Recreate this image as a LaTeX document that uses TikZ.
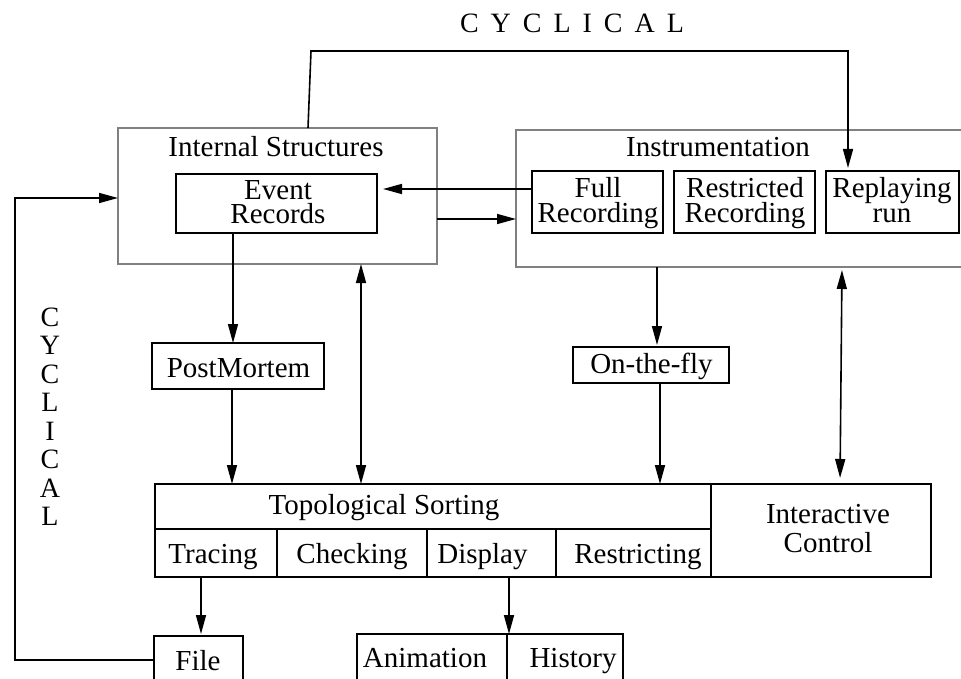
\documentclass[tikz,border=0pt]{standalone}
\usepackage{fontspec}
\setmainfont{Liberation Serif}
\usetikzlibrary{arrows.meta}
\definecolor{framegray}{RGB}{128,128,128}
\begin{document}
\begin{tikzpicture}[x=1pt,y=-1pt,
  >={Triangle[length=19pt,width=10pt]},
  every node/.style={inner sep=0pt, outer sep=0pt},
  txt/.style={font=\fontsize{29}{25}\selectfont},
  tight/.style={font=\fontsize{29}{24}\selectfont, align=center},
  loose/.style={font=\fontsize{29}{29}\selectfont, align=center},
  cyc/.style={font=\fontsize{28}{28.5}\selectfont, align=center},
  frame/.style={draw=framegray, line width=1.8pt},
  box/.style={draw=black, line width=1.6pt},
  link/.style={line width=1.6pt}
]
\useasboundingbox (0,0) rectangle (961,679);

% ---- boxes ----
\node[frame, minimum width=319pt, minimum height=136pt] (intern) at (277.5,196) {};
\node[frame, minimum width=484pt, minimum height=137pt] (instr)  at (758,198.5) {};
\node[box, minimum width=201pt, minimum height=59pt] (ev)     at (276.5,203.5) {};
\node[box, minimum width=131pt, minimum height=62pt] (full)   at (597.5,202) {};
\node[box, minimum width=141pt, minimum height=62pt] (restr)  at (744.5,202) {};
\node[box, minimum width=133pt, minimum height=62pt] (replay) at (892.5,202) {};
\node[box, minimum width=172pt, minimum height=46pt] (pm)     at (238,366) {};
\node[box, minimum width=156pt, minimum height=36pt] (otf)    at (651,365) {};
\node[box, minimum width=556pt, minimum height=45pt] (topo)   at (433,506.5) {};
\node[box, minimum width=122pt, minimum height=48pt] (trace)  at (216,553) {};
\node[box, minimum width=150pt, minimum height=48pt] (check)  at (352,553) {};
\node[box, minimum width=129pt, minimum height=48pt] (disp)   at (491.5,553) {};
\node[box, minimum width=155pt, minimum height=48pt] (rstr)   at (633.5,553) {};
\node[box, minimum width=220pt, minimum height=93pt] (inter)  at (821,530.5) {};
\node[box, minimum width=89pt,  minimum height=64pt] (file)   at (198.5,668) {};
\node[box, minimum width=150pt, minimum height=66pt] (anim)   at (432,667) {};
\node[box, minimum width=116pt, minimum height=66pt] (hist)   at (565,667) {};

% ---- texts ----
\node[txt, anchor=base] (tIntern) at (276,157) {Internal Structures};
\node[txt, anchor=base] (tInstr)  at (718,157) {Instrumentation};
\node[tight] (tEv)     at (278,202.4)  {Event\\Records};
\node[txt, align=center] (tFull)   at (598,202.75) {Full\\Recording};
\node[txt, align=center] (tRestr)  at (745,202.75) {Restricted\\Recording};
\node[txt, align=center] (tReplay) at (892,199.6)  {Replaying\\run};
\node[txt, anchor=base] (tPm)     at (238.5,377) {PostMortem};
\node[txt, anchor=base] (tOtf)    at (651.5,373) {On-the-fly};
\node[txt, anchor=base] (tTopo)   at (384,514)   {Topological Sorting};
\node[txt, anchor=base] (tTrace)  at (213,563)   {Tracing};
\node[txt, anchor=base] (tCheck)  at (352,563)   {Checking};
\node[txt, anchor=base] (tDisp)   at (482.5,563) {Display};
\node[txt, anchor=base] (tRstr)   at (638,563)   {Restricting};
\node[loose] (tInter) at (828,528.6) {Interactive\\Control};
\node[txt, anchor=base] (tFile)   at (198,670)   {File};
\node[txt, anchor=base] (tAnim)   at (425,667)   {Animation};
\node[txt, anchor=base] (tHist)   at (573,667)   {History};

% the two CYCLICAL labels
\node[font=\fontsize{28}{28}\selectfont, anchor=base] (cycTop) at (572,33)
  {C\hspace{12pt}Y\hspace{12pt}C\hspace{12pt}L\hspace{12pt}I\hspace{12pt}C\hspace{12pt}A\hspace{12pt}L};
\node[cyc] (cycLeft) at (50,416.5) {C\\Y\\C\\L\\I\\C\\A\\L};

% ---- connector guide lines ----
\coordinate (xEvDown)    at (233,0);
\coordinate (xPmDown)    at (232,0);
\coordinate (xSortUp)    at (361,0);
\coordinate (xInstrDown) at (657,0);
\coordinate (xOtfDown)   at (660,0);
\coordinate (xCtlTop)    at (842,0);
\coordinate (xCtlBot)    at (840,0);
\coordinate (xTrace)     at (201,0);
\coordinate (xDisp)      at (509,0);
\coordinate (xLeft)      at (15,0);
\coordinate (xLoopLow)   at (308,0);
\coordinate (xLoopTop)   at (311,0);
\coordinate (xReplay)    at (848,0);
\coordinate (yFullEv)    at (0,189);
\coordinate (yInstr)     at (0,219);
\coordinate (yBack)      at (0,198);
\coordinate (yFile)      at (0,660);
\coordinate (yTop)       at (0,51);

% ---- connectors ----
\draw[link, ->, shorten >=6pt] (full.west |- yFullEv) -- (ev.east |- yFullEv);
\draw[link, ->] (intern.east |- yInstr) -- (instr.west |- yInstr);
\draw[link, ->] (ev.south -| xEvDown) -- (pm.north -| xEvDown);
\draw[link, ->] (pm.south -| xPmDown) -- (topo.north -| xPmDown);
\draw[link, <->] (intern.south -| xSortUp) -- (topo.north -| xSortUp);
\draw[link, ->, shorten >=2pt] (instr.south -| xInstrDown) -- (otf.north -| xInstrDown);
\draw[link, ->] (otf.south -| xOtfDown) -- (topo.north -| xOtfDown);
\draw[link, <->, shorten <=3pt, shorten >=6pt] (instr.south -| xCtlTop) -- (inter.north -| xCtlBot);
\draw[link, ->, shorten >=2pt] (trace.south -| xTrace) -- (file.north -| xTrace);
\draw[link, ->] (disp.south -| xDisp) -- (anim.north -| xDisp);
\draw[link, ->, shorten >=3pt] (intern.north -| xLoopLow) -- (xLoopTop |- yTop) -| (replay.north -| xReplay);
\draw[link, ->] (file.west |- yFile) -- (xLeft |- yFile) |- (intern.west |- yBack);
\end{tikzpicture}
\end{document}
